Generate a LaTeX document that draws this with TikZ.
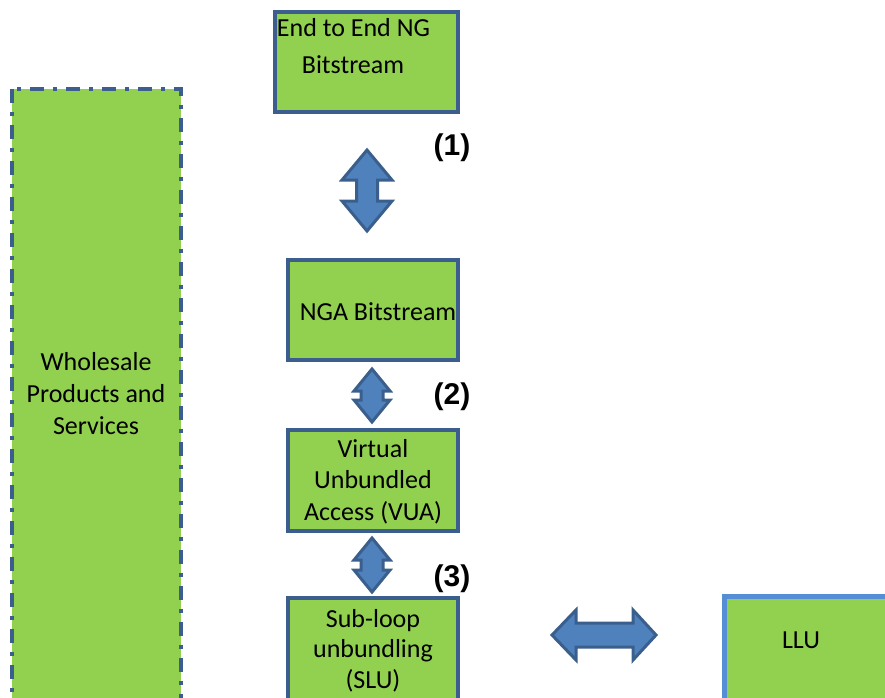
\documentclass[tikz,border=0pt]{standalone}
\usepackage{fontspec}
\setmainfont{Carlito}
\newfontfamily\lblfont{Liberation Sans}
\definecolor{boxgreen}{HTML}{92D050}
\definecolor{boxline}{HTML}{3B5E8F}
\definecolor{lluline}{HTML}{558ED5}
\definecolor{arrfill}{HTML}{4F81BD}
\definecolor{arrline}{HTML}{3A5F8C}
\tikzset{
  gbox/.style={fill=boxgreen,draw=boxline,line width=4pt},
  lbox/.style={fill=boxgreen,draw=lluline,line width=5pt},
  wbox/.style={fill=boxgreen,draw=boxline,line width=3.5pt,dash pattern=on 14pt off 9pt on 4pt off 9pt},
  blockarrow/.style={fill=arrfill,draw=arrline,line width=3pt,line join=miter},
  txt/.style={font=\fontsize{26}{31.5}\selectfont,inner sep=0pt,align=center},
  numlbl/.style={font=\lblfont\bfseries\fontsize{30}{34}\selectfont,inner sep=0pt,anchor=base},
}
% vertical double block arrow: cx, top, bottom, shaft half, head half, head length
\newcommand\vblockarrow[6]{%
  \draw[blockarrow] (#1,#2) -- (#1+#5,#2+#6) -- (#1+#4,#2+#6) -- (#1+#4,#3-#6)
    -- (#1+#5,#3-#6) -- (#1,#3) -- (#1-#5,#3-#6) -- (#1-#4,#3-#6) -- (#1-#4,#2+#6)
    -- (#1-#5,#2+#6) -- cycle;}
\begin{document}
\begin{tikzpicture}[x=1pt,y=-1pt]
\useasboundingbox (0,0) rectangle (885,697);
\begin{scope}
\clip (0,0) rectangle (885,697);
% left wholesale box
\draw[wbox] (12,89) rectangle (181,710);
\node[txt,anchor=base] (w1) at (96,370) {Wholesale};
\node[txt,anchor=base] (w2) at (96,402) {Products and};
\node[txt,anchor=base] (w3) at (96,434) {Services};
% top box
\draw[gbox] (275,12) rectangle (458,112);
\coordinate (e2e) at (366.5,62);
\node[txt,anchor=base] (e1) at (353.5,36) {End to End NG};
\node[txt,anchor=base] (e2) at (353,73) {Bitstream};
% NGA
\draw[gbox] (288,260) rectangle (458,360);
\node[txt,anchor=base] (nga) at (378,320) {NGA Bitstream};
% VUA
\draw[gbox] (288,430) rectangle (458,531);
\node[txt,anchor=base] (v1) at (373,457) {Virtual};
\node[txt,anchor=base] (v2) at (373,488.5) {Unbundled};
\node[txt,anchor=base] (v3) at (373,520) {Access (VUA)};
% SLU
\draw[gbox] (288,598) rectangle (458,710);
\node[txt,anchor=base] (s1) at (373,627) {Sub-loop};
\node[txt,anchor=base] (s2) at (373,657.5) {unbundling};
\node[txt,anchor=base] (s3) at (373,688) {(SLU)};
% LLU
\draw[lbox] (724,596) rectangle (895,710);
\node[txt,anchor=base] (llu) at (801,648) {LLU};
% block arrows
\vblockarrow{367}{150}{231}{10.5}{25}{30}
\vblockarrow{372}{369}{422}{11}{18}{22}
\vblockarrow{372}{538}{592}{11}{18}{22}
\draw[blockarrow] (552,635) -- (576,610) -- (576,623) -- (633,623) -- (633,610)
  -- (656,635) -- (633,660) -- (633,647) -- (576,647) -- (576,660) -- cycle;
% labels
\node[numlbl] (l1) at (452,155) {(1)};
\node[numlbl] (l2) at (452,404) {(2)};
\node[numlbl] (l3) at (452,586) {(3)};
\end{scope}
\end{tikzpicture}
\end{document}
